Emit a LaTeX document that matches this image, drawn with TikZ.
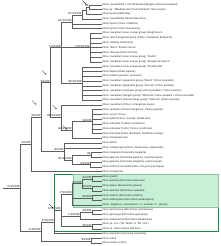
\documentclass[tikz,border=0pt]{standalone}
\usepackage{fontspec}
\setmainfont{Liberation Sans}
\usetikzlibrary{arrows.meta}
\definecolor{boxedge}{RGB}{30,135,70}
\definecolor{boxfill}{RGB}{200,240,215}
\definecolor{brc}{RGB}{95,95,95}
\begin{document}
\begin{tikzpicture}[x=1pt,y=-1pt,
  br/.style={draw=brc, line width=0.35pt},
  leaf/.style={anchor=west, inner sep=0.3pt, font=\fontsize{2.6}{3}\selectfont, text=black!85},
  sup/.style={anchor=south east, inner sep=0.25pt, font=\fontsize{2.9}{3}\selectfont, text=black!85},
  ptr/.style={draw=black, line width=0.3pt, -{Stealth[length=1.3pt,width=1.1pt]}}]
\useasboundingbox (0,0) rectangle (220,246);
% green boxes
\draw[draw=boxedge, line width=0.8pt] (54,174) rectangle (218.6,231.3);
\draw[fill=boxfill, draw=boxedge!50, line width=0.3pt] (73,174) rectangle (218.6,207.4);
% leaves
\node[leaf] (l1) at (101.5,4.70) {Citrus ×aurantiifolia × Citrofortunella (Rangpur, Mexican limequat)};
\node[leaf] (l2) at (101.5,9.47) {Citrus sp. "Mandarin lime" from Rohrbach, New Guinea};
\node[leaf] (l3) at (101.5,14.24) {Citrus hystrix (kaffir lime)};
\node[leaf] (l4) at (101.5,19.01) {Citrus ×aurantiifolia (West Indian lime)};
\node[leaf] (l5) at (101.5,23.78) {Citrus hystrix (Citrus ×celebica)};
\node[leaf] (l6) at (101.5,28.55) {Citrus hystrix (Citrus macroptera)};
\node[leaf] (l7) at (101.5,33.32) {Citrus ×aurantium (sour orange group) Rough lemon};
\node[leaf] (l8) at (101.5,38.09) {Citrus ×limon bergamot group (Citrus × bergamia, Bergamot)};
\node[leaf] (l9) at (101.5,42.86) {Citrus ×latifolia (Tahiti lime)};
\node[leaf] (l10) at (101.5,47.63) {Citrus ×limon "Eureka" lemon};
\node[leaf] (l11) at (101.5,52.40) {Citrus ×limonia (Citrus limonia)};
\node[leaf] (l12) at (101.5,57.17) {Citrus ×aurantium (sour orange group) "Seville"};
\node[leaf] (l13) at (101.5,61.94) {Citrus ×aurantium (sour orange group) "Bouquet de Fleurs"};
\node[leaf] (l14) at (101.5,66.71) {Citrus ×aurantium (sour orange group) "Smooth Flat"};
\node[leaf] (l15) at (101.5,71.48) {Citrus latipes (Khasi papeda)};
\node[leaf] (l16) at (101.5,76.25) {Citrus maxima (pomelo, pummelo)};
\node[leaf] (l17) at (101.5,81.02) {Citrus ×aurantium (grapefruit group) "Marsh" (Citrus ×paradisi)};
\node[leaf] (l18) at (101.5,85.79) {Citrus ×aurantium (grapefruit group) "Duncan" (Citrus paradisi)};
\node[leaf] (l19) at (101.5,90.56) {Citrus ×aurantium (orangelo group) (Citrus paradisi × Citrus sinensis)};
\node[leaf] (l20) at (101.5,95.33) {Citrus ×aurantium (tangelo group) "Minneola" (Citrus paradisi × Citrus reticulata)};
\node[leaf] (l21) at (101.5,100.10) {Citrus ×aurantium (sweet orange group) "Valencia" (Citrus sinensis)};
\node[leaf] (l22) at (101.5,104.87) {Citrus ×aurantium (Citrus ×changshan-huyou)};
\node[leaf] (l23) at (101.5,109.64) {Citrus cavaleriei (Citrus ichangensis, Ichang papeda)};
\node[leaf] (l24) at (101.5,114.41) {Citrus ×junos (Yuzu)};
\node[leaf] (l25) at (101.5,119.18) {Citrus hybrid (Citrus ×sulcata, Sanbo-kan)};
\node[leaf] (l26) at (101.5,123.95) {Citrus reticulata "Ponkan" (mandarin)};
\node[leaf] (l27) at (101.5,128.72) {Citrus reticulata "Fuzhu" (Citrus ×erythrosa)};
\node[leaf] (l28) at (101.5,133.49) {Citrus reticulata (Citrus tachibana, Tachibana orange)};
\node[leaf] (l29) at (101.5,138.26) {Citrus mangshanensis};
\node[leaf] (l30) at (101.5,143.03) {Citrus halimii};
\node[leaf] (l31) at (101.5,147.80) {Citrus ×amblycarpa (Citrus ×microcarpa, calamondin)};
\node[leaf] (l32) at (101.5,152.57) {Citrus margarita (Fortunella margarita)};
\node[leaf] (l33) at (101.5,157.34) {Citrus japonica (Fortunella japonica, round kumquat)};
\node[leaf] (l34) at (101.5,162.11) {Citrus japonica (Fortunella margarita, oval kumquat)};
\node[leaf] (l35) at (101.5,166.88) {Citrus hindsii (Fortunella hindsii, Hong Kong kumquat)};
\node[leaf] (l36) at (101.5,171.65) {Citrus ichangensis};
\node[leaf] (l37) at (101.5,176.42) {Citrus gracilis};
\node[leaf] (l38) at (101.5,181.19) {Citrus wintersii (Microcitrus papuana)};
\node[leaf] (l39) at (101.5,185.96) {Citrus glauca (Eremocitrus glauca)};
\node[leaf] (l40) at (101.5,190.73) {Citrus australis (Microcitrus australis)};
\node[leaf] (l41) at (101.5,195.50) {Citrus inodora (Microcitrus inodora)};
\node[leaf] (l42) at (101.5,200.27) {Citrus warburgiana (Microcitrus warburgiana)};
\node[leaf] (l43) at (101.5,205.04) {Citrus ×virgata (C. australasica × C. australis / C. glauca)};
\node[leaf] (l44) at (101.5,209.81) {Citrus australasica (Microcitrus australasica)};
\node[leaf] (l45) at (101.5,214.58) {Citrus garrawayi (Microcitrus garrawayi)};
\node[leaf] (l46) at (101.5,219.35) {Citrus maideniana (Microcitrus maideniana)};
\node[leaf] (l47) at (101.5,224.12) {Citrus sp. nov. ("Mt. White" or "Mt. Ord")};
\node[leaf] (l48) at (101.5,228.89) {Citrus sp. (New Guinea wild lime)};
\node[leaf] (l49) at (101.5,233.66) {Citrus polyandra (Clymenia polyandra)};
\node[leaf] (l50) at (101.5,238.43) {Citrus indica};
\node[leaf] (l51) at (101.5,243.20) {Citrus medica (citron)};
% internal nodes
\coordinate (a) at (89,7.09);
\coordinate (b) at (86,10.66);
\coordinate (AY) at (82,14.84);
\coordinate (AX) at (72,21.70);
\coordinate (DD) at (90,47.63);
\coordinate (AE) at (82,83.41);
\coordinate (F) at (61,47.63);
\coordinate (S) at (92,121.57);
\coordinate (R) at (72,129.90);
\coordinate (AB) at (61,117.39);
\coordinate (P1) at (50,82.51);
\coordinate (W) at (91,154.96);
\coordinate (X) at (90,164.50);
\coordinate (V) at (72,159.73);
\coordinate (U) at (64,151.40);
\coordinate (P2) at (41,116.96);
\coordinate (P3) at (31,144.30);
\coordinate (L1) at (92,178.80);
\coordinate (L2) at (92,188.35);
\coordinate (L3) at (82,183.58);
\coordinate (L4) at (92,197.89);
\coordinate (K) at (72,194.31);
\coordinate (T2) at (92,212.20);
\coordinate (T) at (80,215.78);
\coordinate (S47) at (92,226.50);
\coordinate (M) at (61,210.40);
\coordinate (E) at (54,222.03);
\coordinate (O) at (91,240.82);
\coordinate (Z) at (41,231.42);
\coordinate (P4) at (20,187.86);
\coordinate (root) at (3,187.86);
% branches
\draw[br] (a) |- (l1.west) (a) |- (l2.west);
\draw[br] (b) |- (a) (b) |- (l3.west);
\draw[br] (AY) |- (b) (AY) |- (l4.west);
\draw[br] (AX) |- (AY) (AX) |- (l5.west) (AX) |- (l6.west);
\foreach \i in {7,...,13} {\draw[br] (DD) |- (l\i.west);}
\foreach \i in {14,...,21} {\draw[br] (AE) |- (l\i.west);}
\draw[br] (F) |- (AX) (F) -- (DD) (F) |- (AE);
\foreach \i in {23,...,28} {\draw[br] (S) |- (l\i.west);}
\draw[br] (R) |- (S) (R) |- (l29.west);
\draw[br] (AB) |- (l22.west) (AB) |- (R);
\draw[br] (P1) |- (F) (P1) |- (AB);
\draw[br] (W) |- (l32.west) (W) |- (l33.west);
\draw[br] (X) |- (l34.west) (X) |- (l35.west);
\draw[br] (V) |- (W) (V) |- (X);
\draw[br] (U) |- (l30.west) (U) |- (l31.west) (U) |- (V);
\draw[br] (P2) |- (P1) (P2) |- (U);
\draw[br] (P3) |- (P2) (P3) |- (l36.west);
\draw[br] (L1) |- (l37.west) (L1) |- (l38.west);
\draw[br] (L2) |- (l39.west) (L2) |- (l40.west);
\draw[br] (L3) |- (L1) (L3) |- (L2);
\draw[br] (L4) |- (l41.west) (L4) |- (l42.west);
\draw[br] (K) |- (L3) (K) |- (L4) (K) |- (l43.west);
\draw[br] (T2) |- (l44.west) (T2) |- (l45.west);
\draw[br] (T) |- (T2) (T) |- (l46.west);
\draw[br] (S47) |- (l47.west) (S47) |- (l48.west);
\draw[br] (M) |- (K) (M) |- (T) (M) |- (S47);
\draw[br] (E) |- (M) (E) |- (l49.west);
\draw[br] (O) |- (l50.west) (O) |- (l51.west);
\draw[br] (Z) |- (E) (Z) |- (O);
\draw[br] (P4) |- (P3) (P4) |- (Z);
\draw[br] (root) -- (P4);
% support labels
\node[sup] at (a) {99};
\node[sup] at (AY) {AY 99/100};
\node[sup] at (AX) {AX 99/100};
\node[sup] at (DD) {DD 99/100};
\node[sup] at (AE) {AE 99/100};
\node[sup] at (F) {F 99/100};
\node[sup] at (S) {99/100};
\node[sup] at (R) {AZ 99/100};
\node[sup] at (AB) {AB 99/100};
\node[sup] at (P1) {99/100};
\node[sup] at (P2) {99/100};
\node[sup] at (P3) {99/100};
\node[sup] at (U) {99/100};
\node[sup] at (V) {AA 99/100};
\node[sup] at (W) {99};
\node[sup] at (X) {99/100};
\node[sup] at (L1) {99/100};
\node[sup] at (L2) {99/100};
\node[sup] at (L3) {99/100};
\node[sup] at (L4) {99/100};
\node[sup] at (K) {P 99/100};
\node[sup] at (T2) {99/100};
\node[sup] at (T) {T 99/100};
\node[sup] at (S47) {99/100};
\node[sup] at (M) {M 99/100};
\node[sup] at (E) {E 99/100};
\node[sup] at (O) {99/100};
\node[sup] at (Z) {A 99/100};
\node[sup] at (P4) {G 99/100};
% pointer arrows
\coordinate (q1s) at (82.5,0.6); \coordinate (q1e) at (86.5,4.6);
\coordinate (q2s) at (42,70.5); \coordinate (q2e) at (46,74.5);
\coordinate (q3s) at (32,100.5); \coordinate (q3e) at (36,104.5);
\coordinate (q4s) at (52.5,105); \coordinate (q4e) at (56.5,109);
\coordinate (q5s) at (63,125.5); \coordinate (q5e) at (67,129.5);
\coordinate (q6s) at (49,204); \coordinate (q6e) at (53,208);
\draw[ptr] (q1s) -- (q1e);
\draw[ptr] (q2s) -- (q2e);
\draw[ptr] (q3s) -- (q3e);
\draw[ptr] (q4s) -- (q4e);
\draw[ptr] (q5s) -- (q5e);
\draw[ptr] (q6s) -- (q6e);
\end{tikzpicture}
\end{document}
